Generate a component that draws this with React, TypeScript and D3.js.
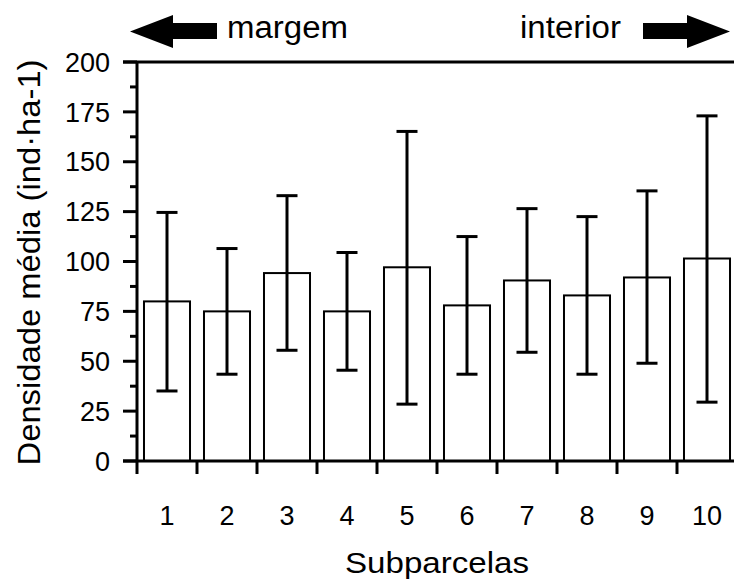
import React from "react";
import * as d3 from "d3";

const categories = ["1", "2", "3", "4", "5", "6", "7", "8", "9", "10"];
const means = [80, 75, 94.2, 75, 97.1, 78, 90.5, 83, 92, 101.5];
const upper = [124.6, 106.5, 133, 104.5, 165.2, 112.5, 126.5, 122.5, 135.4, 173];
const lower = [35.1, 43.5, 55.5, 45.5, 28.5, 43.5, 54.5, 43.5, 49, 29.5];
const yTicks = [0, 25, 50, 75, 100, 125, 150, 175, 200];
const yMinor = [12.5, 37.5, 62.5, 87.5, 112.5, 137.5, 162.5, 187.5];

const W = 734;
const H = 583;
const left = 137;
const right = 737;
const top = 62;
const bottom = 461;
const FONT = "'Liberation Sans', Arial, sans-serif";

export default function App() {
  const x = d3.scaleBand<string>().domain(categories).range([left, right]).paddingInner(0.233).paddingOuter(0.1165);
  const xb = d3.scaleBand<string>().domain(categories).range([left, right]);
  const y = d3.scaleLinear().domain([0, 200]).range([bottom, top]);
  const capW = 21;

  return (
    <svg width={W} height={H} style={{ position: "absolute", left: 0, top: 0, background: "#fff" }}>
      {/* arrows */}
      <path d="M130,31.5 L173,15 L173,23 L217,23 L217,39 L173,39 L173,48 Z" fill="#000" />
      <path d="M730,31.5 L687,15 L687,23 L643,23 L643,39 L687,39 L687,48 Z" fill="#000" />
      <text x={227} y={38} fontFamily={FONT} fontSize={31} textLength={121} lengthAdjust="spacingAndGlyphs" fill="#000">margem</text>
      <text x={520} y={38} fontFamily={FONT} fontSize={31} textLength={101} lengthAdjust="spacingAndGlyphs" fill="#000">interior</text>

      {/* bars */}
      {categories.map((c, i) => (
        <rect key={c} x={x(c)} y={y(means[i])} width={x.bandwidth()} height={bottom - y(means[i])}
          fill="#fff" stroke="#000" strokeWidth={2} />
      ))}
      {/* error bars */}
      {categories.map((c, i) => {
        const cx = (x(c) as number) + x.bandwidth() / 2;
        return (
          <g key={"e" + c} stroke="#000" strokeWidth={3}>
            <line x1={cx} x2={cx} y1={y(upper[i])} y2={y(lower[i])} />
            <line x1={cx - capW / 2} x2={cx + capW / 2} y1={y(upper[i])} y2={y(upper[i])} />
            <line x1={cx - capW / 2} x2={cx + capW / 2} y1={y(lower[i])} y2={y(lower[i])} />
          </g>
        );
      })}

      {/* axes */}
      <g stroke="#000" strokeWidth={3}>
        <line x1={left} x2={left} y1={top} y2={bottom} />
        <line x1={123} x2={W} y1={bottom} y2={bottom} />
        <line x1={123} x2={W} y1={top} y2={top} />
        {yTicks.map((t) => (
          <line key={t} x1={123} x2={left} y1={y(t)} y2={y(t)} />
        ))}
        {yMinor.map((t) => (
          <line key={t} x1={130} x2={left} y1={y(t)} y2={y(t)} />
        ))}
        {categories.map((c) => (
          <line key={c} x1={xb(c)} x2={xb(c)} y1={bottom} y2={bottom + 13} />
        ))}
      </g>
      {yTicks.map((t) => (
        <text key={t} x={110} y={y(t)} dy="0.36em" textAnchor="end" fontFamily={FONT} fontSize={27} fill="#000">{t}</text>
      ))}
      {categories.map((c) => (
        <text key={c} x={(xb(c) as number) + xb.bandwidth() / 2} y={525} textAnchor="middle" fontFamily={FONT} fontSize={27} fill="#000">{c}</text>
      ))}
      <text x={437} y={573} textAnchor="middle" fontFamily={FONT} fontSize={30} textLength={184} lengthAdjust="spacingAndGlyphs" fill="#000">Subparcelas</text>
      <text transform={`translate(40,${(top + bottom) / 2 + 1}) rotate(-90)`} textAnchor="middle" fontFamily={FONT} fontSize={32} textLength={406} lengthAdjust="spacingAndGlyphs" fill="#000">Densidade média (ind·ha-1)</text>
    </svg>
  );
}
